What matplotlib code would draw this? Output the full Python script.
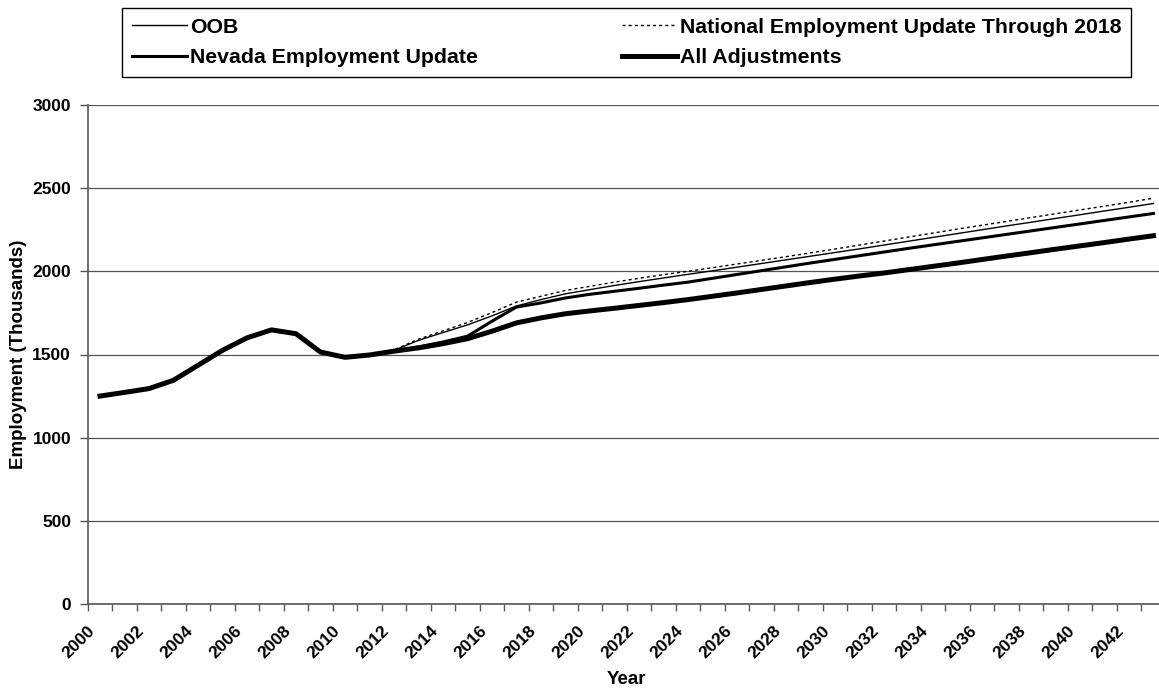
import numpy as np
import matplotlib
matplotlib.use("Agg")
import matplotlib.pyplot as plt

plt.rcParams["font.family"] = ["Liberation Sans", "DejaVu Sans"]
plt.rcParams["font.weight"] = "bold"

# ============================================================
# DATA (thousands of jobs)
# ============================================================

years = list(range(2000, 2044))

history = [1250, 1272, 1295, 1345, 1435, 1525, 1600, 1648, 1625, 1515,
           1483, 1497]

oob = history + [
    1525, 1585, 1632, 1678, 1732, 1792, 1830, 1865, 1890, 1915,
    1938, 1960, 1982, 2003, 2025, 2047, 2069, 2091, 2113, 2135,
    2158, 2181, 2204, 2227, 2250, 2273, 2295, 2318, 2340, 2363,
    2385, 2408]

national = history + [
    1528, 1592, 1642, 1692, 1752, 1815, 1850, 1885, 1910, 1935,
    1958, 1980, 2000, 2022, 2044, 2066, 2088, 2111, 2134, 2158,
    2182, 2206, 2230, 2254, 2277, 2300, 2323, 2346, 2369, 2392,
    2415, 2440]

nevada = history + [
    1520, 1545, 1575, 1610, 1700, 1785, 1810, 1840, 1862, 1880,
    1898, 1917, 1935, 1958, 1981, 2004, 2027, 2050, 2072, 2094,
    2116, 2138, 2159, 2180, 2201, 2222, 2243, 2264, 2285, 2306,
    2327, 2348]

all_adj = history + [
    1520, 1540, 1565, 1595, 1640, 1690, 1720, 1745, 1762, 1778,
    1795, 1812, 1830, 1850, 1870, 1891, 1912, 1933, 1953, 1972,
    1990, 2010, 2030, 2050, 2071, 2092, 2112, 2133, 2153, 2173,
    2194, 2214]

y_ticks = [0, 500, 1000, 1500, 2000, 2500, 3000]

# ============================================================
# FIGURE
# ============================================================

W, H = 1159, 690
fig = plt.figure(figsize=(W / 100, H / 100), dpi=100)

# plot area runs a little past the right edge of the picture
ax = fig.add_axes([87.7 / W, (H - 604) / H, 1078 / W, 499 / H])

x = np.arange(len(years))

ax.plot(x, oob, color="black", linewidth=1.0, label="OOB")
ax.plot(x, national, color="black", linewidth=1.0, dashes=(2.2, 2.2),
        label="National Employment Update Through 2018")
ax.plot(x, nevada, color="black", linewidth=2.2,
        label="Nevada Employment Update")
ax.plot(x, all_adj, color="black", linewidth=3.6, label="All Adjustments")

ax.set_xlim(-0.5, len(years) - 0.5)
ax.set_ylim(0, 3000)

grey = "#555555"
ax.set_yticks(y_ticks)
ax.yaxis.grid(True, color=grey, linewidth=0.9)
ax.set_axisbelow(True)

bounds = np.arange(-0.5, len(years), 1.0)
labels = [str(years[i]) if (i < len(years) and i % 2 == 0) else ""
          for i in range(len(bounds))]
ax.set_xticks(bounds)
ax.set_xticklabels(labels, rotation=45, ha="right", va="top",
                   rotation_mode="anchor", fontsize=12.5)

ax.tick_params(axis="x", direction="out", length=5, width=1, color=grey,
               pad=9)
ax.tick_params(axis="y", direction="out", length=6, width=1, color=grey,
               pad=6, labelsize=12.5)

for s in ["top", "right"]:
    ax.spines[s].set_visible(False)
for s in ["left", "bottom"]:
    ax.spines[s].set_color(grey)
    ax.spines[s].set_linewidth(1.2)

ax.set_ylabel("Employment (Thousands)", fontsize=13.5, fontweight="bold",
              va="center")
ax.yaxis.set_label_coords((18 - 87.7) / 1078, 0.5)
ax.set_xlabel("Year", fontsize=13.5, fontweight="bold", va="center")
ax.xaxis.set_label_coords((626 - 87.7) / 1078, (604 - 680) / 499)

# ============================================================
# LEGEND
# ============================================================

handles, names = ax.get_legend_handles_labels()
order = [0, 2, 1, 3]
leg = fig.legend([handles[i] for i in order], [names[i] for i in order],
                 loc="upper left", ncol=2, mode="expand",
                 bbox_to_anchor=(122 / W, 1 - 8 / H - 0.01,
                                 (1131 - 122) / W, 0.01),
                 bbox_transform=fig.transFigure, borderaxespad=0,
                 fontsize=15.3, handlelength=2.6, handletextpad=0.15,
                 borderpad=0.45, labelspacing=0.56, fancybox=False,
                 framealpha=1, edgecolor="black")
leg.get_frame().set_linewidth(1.0)

fig.savefig("out.png", dpi=100)
plt.close(fig)
